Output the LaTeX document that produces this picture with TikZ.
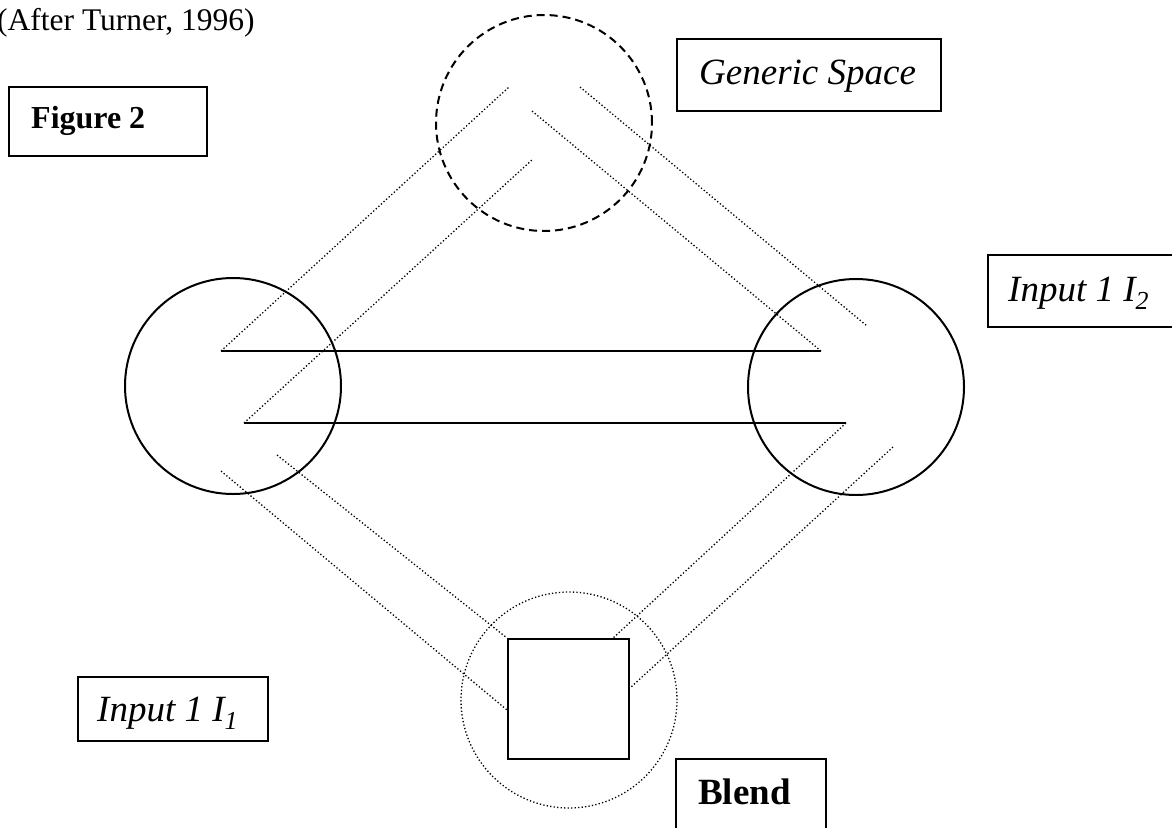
\documentclass[tikz,border=0pt]{standalone}
\usepackage{fontspec}
\setmainfont{Liberation Serif}
\begin{document}
\begin{tikzpicture}[x=1pt,y=-1pt,
  ring/.style={circle,draw,line width=2pt,minimum size=216pt,inner sep=0pt},
  dashring/.style={ring,dash pattern=on 8pt off 5pt},
  dotring/.style={circle,draw,line width=1.3pt,dash pattern=on 1.3pt off 2.2pt,minimum size=216pt,inner sep=0pt},
  link/.style={line width=1.3pt,dash pattern=on 1.3pt off 2.2pt},
  bar/.style={line width=2pt},
  frame/.style={draw,line width=2pt},
  lbl/.style={anchor=base west,inner sep=0pt},
  figtxt/.style={font=\fontsize{32}{38}\selectfont\bfseries},
  blendtxt/.style={font=\fontsize{37}{44}\selectfont\bfseries},
  itxt/.style={font=\fontsize{37}{44}\selectfont\itshape}]
\useasboundingbox (0,0) rectangle (1172,827);

% caption
\node[lbl,font=\fontsize{31.5}{37}\selectfont] (src) at (-3,30) {(After Turner, 1996)};

% label boxes
\draw[frame] (9,87) rectangle (207,156);
\node[lbl,figtxt] (fig) at (31,128) {Figure 2};
\draw[frame] (677,39) rectangle (941,111);
\node[lbl,itxt] (gtxt) at (699,84) {Generic Space};
\draw[frame] (1173,255) -- (988,255) -- (988,327) -- (1173,327);
\node[lbl,itxt] (i2txt) at (1008,301) {Input 1 I\textsubscript{2}};
\draw[frame] (78,677) rectangle (268,741);
\node[lbl,itxt] (i1txt) at (97,721) {Input 1 I\textsubscript{1}};
\draw[frame] (676,828) -- (676,759) -- (826,759) -- (826,828);
\node[lbl,blendtxt] (btxt) at (698,804) {Blend};

% the four spaces
\node[dashring] (gen) at (544,123) {};
\node[ring] (in1) at (233,386) {};
\node[ring] (in2) at (856,387) {};
\node[dotring] (blend) at (569,700) {};
\node[draw,line width=2pt,minimum width=121pt,minimum height=120pt,inner sep=0pt] (sq) at (568.5,699) {};

% end points of the mapping lines
\coordinate (a1) at (221,351);
\coordinate (a2) at (821,351);
\coordinate (b1) at (244,423);
\coordinate (b2) at (846,423);
\coordinate (g1) at (509,87);
\coordinate (g2) at (533,159);
\coordinate (g3) at (532,111);
\coordinate (g4) at (580,87);
\coordinate (r1) at (867,326);
\coordinate (l1) at (221,471);
\coordinate (l2) at (277,455);
\coordinate (r2) at (893,447);
\coordinate (s1) at (sq.west |- 0,710);
\coordinate (s2) at (sq.north west);
\coordinate (s3) at (612,639);
\coordinate (s4) at (sq.east |- 0,688);

% cross-space counterparts
\draw[bar] (a1) -- (a2);
\draw[bar] (b1) -- (b2);

% projections from the generic space
\draw[link] (a1) -- (g1);
\draw[link] (b1) -- (g2);
\draw[link] (g3) -- (a2);
\draw[link] (g4) -- (r1);

% projections into the blend
\draw[link] (l1) -- (s1);
\draw[link] (l2) -- (s2);
\draw[link] (b2) -- (s3);
\draw[link] (r2) -- (s4);
\end{tikzpicture}
\end{document}
